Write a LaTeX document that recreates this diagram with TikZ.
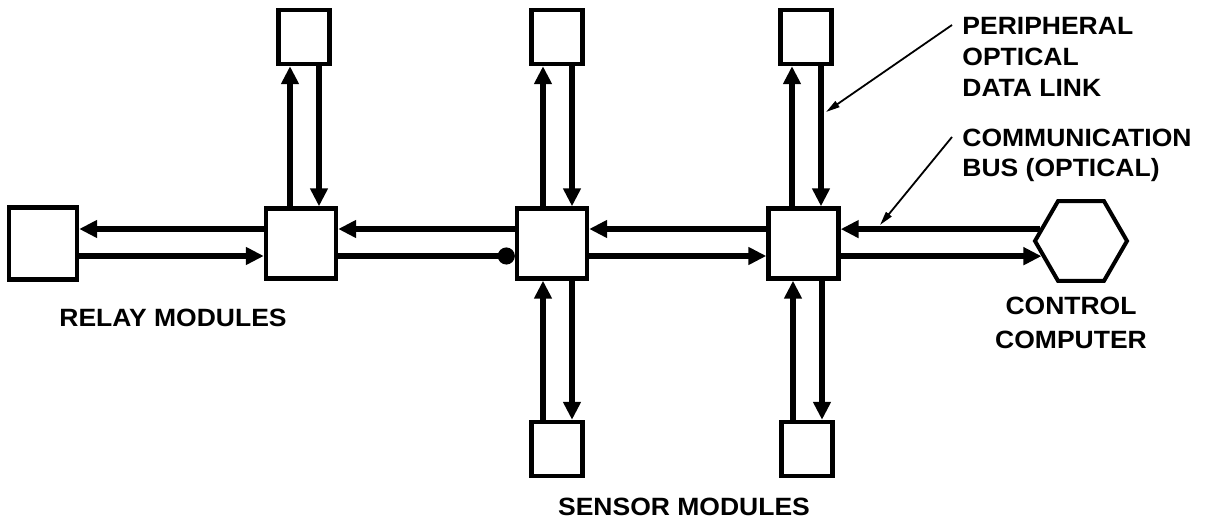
\documentclass[tikz,border=0pt]{standalone}
\usepackage{fontspec}
\setmainfont{Liberation Sans}[FakeStretch=1.06]
\usetikzlibrary{arrows.meta,shapes.geometric}

\begin{document}
\begin{tikzpicture}[x=0.5pt,y=-0.5pt,
  hub/.style={draw,line width=2.2pt,minimum width=35pt,minimum height=35pt,inner sep=0pt},
  unit/.style={draw,line width=2.2pt,minimum width=25.5pt,minimum height=27pt,inner sep=0pt},
  host/.style={draw,line width=2pt,regular polygon,regular polygon sides=6,minimum size=46pt,inner sep=0pt},
  link/.style={-{Triangle[length=9pt,width=8.5pt]},line width=2.8pt},
  dotlink/.style={-{Circle[length=8.5pt]},line width=2.8pt},
  leader/.style={-{Triangle[length=7pt,width=3.5pt]},line width=0.9pt},
  lbl/.style={font=\bfseries\fontsize{12.5}{15.5}\selectfont,inner sep=0pt}
]
\useasboundingbox (0,0) rectangle (1222,522);
% modules
\node[draw,line width=2.2pt,minimum width=34pt,minimum height=36pt,inner sep=0pt] (relay) at (43,243.5) {};
\node[hub] (hubA) at (301,243.5) {};
\node[hub] (hubB) at (552,243.5) {};
\node[hub] (hubC) at (803.5,243.5) {};
\node[unit] (topA) at (304,37) {};
\node[unit] (topB) at (557,37) {};
\node[unit] (topC) at (806,37) {};
\node[unit] (botB) at (557,449) {};
\node[unit] (botC) at (807,449) {};
\node[host] (hex) at (1081,241) {};
% communication bus
\draw[link] ([yshift=7.25pt]hubA.west) -- ([yshift=7.25pt]relay.east);
\draw[link] ([yshift=-6.25pt]relay.east) -- ([yshift=-6.25pt]hubA.west);
\draw[link] ([yshift=7.25pt]hubB.west) -- ([yshift=7.25pt]hubA.east);
\draw[dotlink] ([yshift=-6.25pt]hubA.east) -- ([yshift=-6.25pt]hubB.west);
\draw[link] ([yshift=7.25pt]hubC.west) -- ([yshift=7.25pt]hubB.east);
\draw[link] ([yshift=-6.25pt]hubB.east) -- ([yshift=-6.25pt]hubC.west);
\draw[link] (hex.164) -- (hubC.east |- hex.164);
\draw[link] (hubC.east |- hex.201) -- (hex.201);
% peripheral links
\draw[link] ([xshift=-7pt]topA.south |- hubA.north) -- ([xshift=-7pt]topA.south);
\draw[link] ([xshift=7.5pt]topA.south) -- ([xshift=7.5pt]topA.south |- hubA.north);
\draw[link] ([xshift=-7pt]topB.south |- hubB.north) -- ([xshift=-7pt]topB.south);
\draw[link] ([xshift=7.5pt]topB.south) -- ([xshift=7.5pt]topB.south |- hubB.north);
\draw[link] ([xshift=-7pt]topC.south |- hubC.north) -- ([xshift=-7pt]topC.south);
\draw[link] ([xshift=7.5pt]topC.south) -- ([xshift=7.5pt]topC.south |- hubC.north);
\draw[link] ([xshift=-7pt]botB.north) -- ([xshift=-7pt]botB.north |- hubB.south);
\draw[link] ([xshift=7.5pt]botB.north |- hubB.south) -- ([xshift=7.5pt]botB.north);
\draw[link] ([xshift=-7pt]botC.north) -- ([xshift=-7pt]botC.north |- hubC.south);
\draw[link] ([xshift=7.5pt]botC.north |- hubC.south) -- ([xshift=7.5pt]botC.north);
% labels
\node[lbl] (relaylbl) at (173,318) {RELAY MODULES};
\node[lbl] (sensorlbl) at (684,507) {SENSOR MODULES};
\node[lbl,align=center,font=\bfseries\fontsize{12.5}{17}\selectfont] (hostlbl) at (1071,323) {CONTROL\\COMPUTER};
\node[lbl,align=left,anchor=north west] (plink) at (962,17) {PERIPHERAL\\OPTICAL\\DATA LINK};
\node[lbl,align=left,anchor=north west,font=\bfseries\fontsize{12.5}{15}\selectfont] (cbus) at (962,129) {COMMUNICATION\\BUS (OPTICAL)};
\coordinate (plinktip) at (826,112);
\coordinate (cbustip) at (880,225);
\draw[leader] ([xshift=-5pt,yshift=-4pt]plink.north west) -- (plinktip);
\draw[leader] ([xshift=-5pt,yshift=-4pt]cbus.north west) -- (cbustip);
\end{tikzpicture}
\end{document}
